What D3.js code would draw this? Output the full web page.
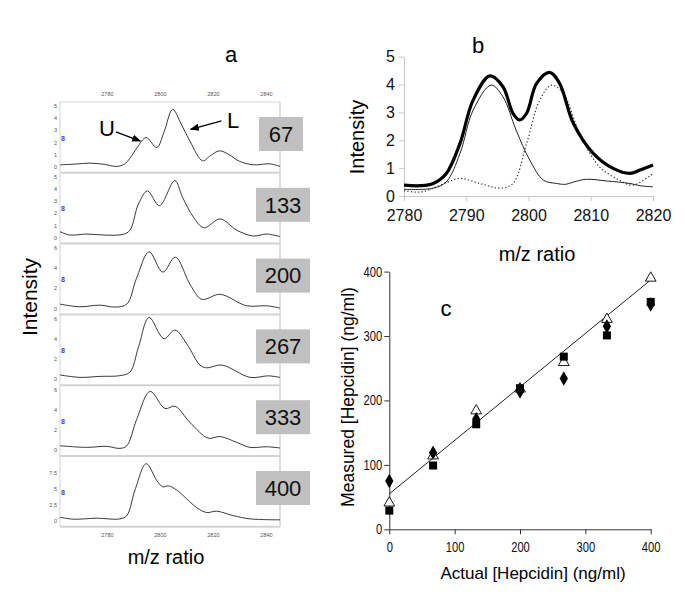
<html>
  <head>
    <script src="https://d3js.org/d3.v7.min.js"></script>
    <style>
      body { margin: 0; background: #fff; }
      text { font-family: "Liberation Sans", Arial, sans-serif; }
    </style>
  </head>
  <body>
    <svg id="fig" width="685" height="616"></svg>
    <script>
      // ---- panel a: spectra at each spiked concentration ----
      let concLabels = ["67", "133", "200", "267", "333", "400"];
      let spec67 = [[2762.3,0.16],[2768,0.22],[2773.6,0.3],[2779,0.2],[2783.7,0.03],[2786.5,0.2],[2788.7,0.7],[2791.5,1.6],[2794.8,2.38],[2798.8,1.57],[2801.5,2.8],[2804.8,4.68],[2808,3.5],[2811.4,2.05],[2816.1,0.49],[2819,0.9],[2822.4,1.3],[2826,1.0],[2830,0.45],[2835.2,0.16],[2841.5,0.24],[2845.3,0.03]];
      let spec133 = [[2762.3,0.48],[2766.1,0.21],[2772.4,0.29],[2779.9,0.2],[2786.2,0.27],[2788.7,0.6],[2791.9,2.74],[2795.3,3.8],[2799.8,2.6],[2805.6,4.65],[2808.5,3.3],[2812.6,1.68],[2816.6,0.8],[2822.7,1.52],[2829,0.6],[2835.2,0.13],[2840.3,0.29],[2845.3,0.08]];
      let spec200 = [[2762.3,0.42],[2769.8,0.16],[2777.4,0.32],[2783.1,0.13],[2787.5,0.42],[2791.2,3.0],[2795.9,5.58],[2801.1,3.58],[2805.8,5.06],[2811.4,2.35],[2815.8,0.9],[2822.7,1.39],[2832.7,0.26],[2840.3,0.26],[2845.3,0.03]];
      let spec267 = [[2762.3,0.42],[2769.8,0.18],[2777.4,0.28],[2784.9,0.35],[2788.7,0.7],[2791.9,3.16],[2795.9,6.1],[2801.5,4.0],[2805.7,4.85],[2810.1,3.5],[2815.1,1.4],[2817.6,1.12],[2823.3,1.4],[2834,0.18],[2840.9,0.33],[2845.3,0.18]];
      let spec333 = [[2762.3,0.42],[2772.4,0.26],[2779.9,0.36],[2784.9,0.16],[2787.5,0.42],[2791.2,3.0],[2796.3,5.78],[2801.9,4.1],[2805.7,4.32],[2811.4,2.7],[2818.2,1.17],[2822.7,1.33],[2829,0.75],[2834,0.26],[2840.3,0.32],[2845.3,0.2]];
      let spec400 = [[2762.3,0.55],[2767.3,0.25],[2776.1,0.4],[2784.9,0.3],[2787.5,0.8],[2790.6,4.78],[2794.8,8.86],[2798.8,6.27],[2801.1,5.27],[2803.2,5.42],[2806.3,4.78],[2813.9,2.04],[2817.6,1.29],[2821.4,1.49],[2827.7,0.8],[2834,0.3],[2845.3,0.15]];
      let spectra = [spec67, spec133, spec200, spec267, spec333, spec400];
      let yTops = [5.2, 5.2, 6.3, 6.3, 6.3, 9.9];
      let yTicksA = [[0,1,2,3,4,5],[0,1,2,3,4,5],[0,2,4,6],[0,2,4,6],[0,2,4,6],[0,2.5,5,7.5]];
      let mzTicksA = [2780, 2800, 2820, 2840];

      // ---- panel b: deconvolution of the two peaks ----
      let sumLine = [[2780,0.39],[2782.6,0.37],[2784.7,0.45],[2786.8,0.81],[2789,1.89],[2791.1,3.44],[2793.8,4.31],[2795.9,3.92],[2797.5,2.97],[2798.6,2.73],[2799.7,2.97],[2801.3,4.04],[2803.4,4.44],[2805,4.04],[2807.2,2.61],[2810.4,1.53],[2813.6,0.99],[2816.3,0.81],[2817.9,0.93],[2820,1.11]];
      let uLine = [[2780,0.24],[2784.7,0.28],[2786.8,0.51],[2789,1.53],[2791.1,3.08],[2794,3.98],[2795.9,3.56],[2798,2.37],[2800.2,1.29],[2802.4,0.57],[2804.5,0.45],[2806,0.42],[2807.2,0.5],[2809.3,0.6],[2812.5,0.54],[2816.3,0.45],[2817.9,0.37],[2820,0.33]];
      let lLine = [[2780,0.19],[2782.6,0.14],[2784.7,0.28],[2786.8,0.48],[2789,0.63],[2792.2,0.45],[2795.4,0.28],[2797.5,0.45],[2799.7,1.89],[2801.8,3.44],[2803.7,3.98],[2805.6,3.68],[2808.2,2.25],[2811.4,1.05],[2814.6,0.57],[2816.8,0.39],[2820,0.81]];

      // ---- panel c: measured vs actual ----
      let actual = [0, 67, 133, 200, 267, 333, 400];
      let diamonds = [75, 119, 171, 214, 234, 315, 349];
      let squares = [29, 99, 163, 219, 268, 301, 353];
      let triangles = [41, 114, 184, 218, 259, 326, 390];
      let fitIntercept = 55, fitSlope = 0.83;

      let svg = d3.select("svg#fig");
      svg.append("rect").attr("width", 685).attr("height", 616).attr("fill", "#fff");

      // ================= panel a =================
      let xA = d3.scaleLinear().domain([2762.3, 2845.3]).range([60, 280]);
      let aTop = 102, aH = 70.8;
      let gA = svg.append("g");

      // frame + separators
      gA.append("line").attr("x1", 60).attr("x2", 60).attr("y1", aTop).attr("y2", aTop + 6 * aH)
        .attr("stroke", "#d4d4d4").attr("stroke-width", 1);
      gA.append("line").attr("x1", 280).attr("x2", 280).attr("y1", aTop).attr("y2", aTop + 6 * aH)
        .attr("stroke", "#d4d4d4").attr("stroke-width", 1.5);
      for (let i = 0; i <= 6; i++) {
        gA.append("line").attr("x1", 60).attr("x2", 280)
          .attr("y1", aTop + i * aH).attr("y2", aTop + i * aH)
          .attr("stroke", "#d4d4d4").attr("stroke-width", i == 0 ? 1 : 2);
      }

      spectra.forEach((spec, i) => {
        let top = aTop + i * aH;
        let y = d3.scaleLinear().domain([0, yTops[i]]).range([top + aH - 6, top + 1]);
        let line = d3.line().x(d => xA(d[0])).y(d => y(d[1])).curve(d3.curveCatmullRom.alpha(0.5));
        gA.append("path").datum(spec).attr("d", line)
          .attr("fill", "none").attr("stroke", "#222").attr("stroke-width", 0.9);

        let ax = d3.axisLeft(y).tickValues(yTicksA[i]).tickSize(0).tickPadding(3).tickFormat(d3.format("~g"));
        let g = gA.append("g").attr("transform", "translate(60,0)").call(ax);
        g.select(".domain").remove();
        g.selectAll("text").attr("font-size", 5.5).attr("fill", "#555")
          .attr("font-family", "Liberation Sans, Arial, sans-serif");

        // tiny blue marker
        gA.append("text").attr("x", 63).attr("y", y(yTops[i] * 0.45))
          .attr("text-anchor", "middle").attr("dy", "0.35em")
          .attr("font-size", 7).attr("font-weight", "bold").attr("fill", "#3344cc").text("8");

        // concentration box
        let w = concLabels[i].length == 2 ? 44 : 54;
        let cx = i == 0 ? 281 : 283;
        gA.append("rect").attr("x", cx - w / 2).attr("y", top + 15).attr("width", w).attr("height", 34)
          .attr("fill", "#c0c0c0");
        gA.append("text").attr("x", cx).attr("y", top + 32).attr("dy", "0.35em")
          .attr("text-anchor", "middle").attr("font-size", 22).attr("fill", "#111").text(concLabels[i]);
      });

      let topAx = gA.append("g").attr("transform", "translate(0," + (aTop - 6) + ")")
        .call(d3.axisTop(xA).tickValues(mzTicksA).tickSize(0).tickPadding(0).tickFormat(d3.format("d")));
      topAx.select(".domain").remove();
      topAx.selectAll("text").attr("font-size", 5.5).attr("fill", "#555");
      let botAx = gA.append("g").attr("transform", "translate(0," + (aTop + 6 * aH + 5) + ")")
        .call(d3.axisBottom(xA).tickValues(mzTicksA).tickSize(0).tickPadding(1).tickFormat(d3.format("d")));
      botAx.select(".domain").remove();
      botAx.selectAll("text").attr("font-size", 5.5).attr("fill", "#555");

      // U / L annotation on top spectrum
      let y1 = d3.scaleLinear().domain([0, yTops[0]]).range([aTop + aH - 6, aTop + 1]);
      svg.append("defs").append("marker").attr("id", "arr").attr("viewBox", "0 0 10 10")
        .attr("refX", 9).attr("refY", 5).attr("markerWidth", 7).attr("markerHeight", 7)
        .attr("orient", "auto").append("path").attr("d", "M0,1L10,5L0,9Z").attr("fill", "#000");
      gA.append("text").attr("x", xA(2780)).attr("y", y1(3.1)).attr("dy", "0.35em")
        .attr("text-anchor", "middle").attr("font-size", 22).text("U");
      gA.append("line").attr("x1", xA(2783.4)).attr("y1", y1(2.85)).attr("x2", xA(2792.6)).attr("y2", y1(2.1))
        .attr("stroke", "#000").attr("stroke-width", 1.3).attr("marker-end", "url(#arr)");
      gA.append("text").attr("x", xA(2827.6)).attr("y", y1(3.75)).attr("dy", "0.35em")
        .attr("text-anchor", "middle").attr("font-size", 22).text("L");
      gA.append("line").attr("x1", xA(2823.2)).attr("y1", y1(3.75)).attr("x2", xA(2811.6)).attr("y2", y1(3.05))
        .attr("stroke", "#000").attr("stroke-width", 1.3).attr("marker-end", "url(#arr)");

      svg.append("text").attr("x", 231).attr("y", 62).attr("text-anchor", "middle").attr("font-size", 22).text("a");
      svg.append("text").attr("transform", "translate(37,297) rotate(-90)").attr("text-anchor", "middle")
        .attr("font-size", 21).text("Intensity");
      svg.append("text").attr("x", 166).attr("y", 564).attr("text-anchor", "middle").attr("font-size", 20).text("m/z ratio");

      // ================= panel b =================
      let xB = d3.scaleLinear().domain([2780, 2820]).range([404, 653]);
      let yB = d3.scaleLinear().domain([0, 5]).range([196, 56.7]);
      let gB = svg.append("g");
      let xAxB = gB.append("g").attr("transform", "translate(0,196)")
        .call(d3.axisBottom(xB).ticks(5).tickSize(5).tickSizeOuter(0).tickPadding(9).tickFormat(d3.format("d")));
      let yAxB = gB.append("g").attr("transform", "translate(404,0)")
        .call(d3.axisLeft(yB).ticks(5).tickSize(5).tickSizeOuter(0).tickPadding(4));
      [xAxB, yAxB].forEach(g => {
        g.selectAll("path, line").attr("stroke", "#c8c8c8");
        g.selectAll("text").attr("font-size", 16).attr("fill", "#111")
          .attr("font-family", "Liberation Sans, Arial, sans-serif");
      });
      let lineB = d3.line().x(d => xB(d[0])).y(d => yB(d[1])).curve(d3.curveCatmullRom.alpha(0.5));
      gB.append("path").datum(lLine).attr("d", lineB).attr("fill", "none")
        .attr("stroke", "#333").attr("stroke-width", 1.2).attr("stroke-dasharray", "1.3,2.2");
      gB.append("path").datum(uLine).attr("d", lineB).attr("fill", "none")
        .attr("stroke", "#222").attr("stroke-width", 1);
      gB.append("path").datum(sumLine).attr("d", lineB).attr("fill", "none")
        .attr("stroke", "#000").attr("stroke-width", 3.2);
      svg.append("text").attr("x", 478).attr("y", 53).attr("text-anchor", "middle").attr("font-size", 22).text("b");
      svg.append("text").attr("transform", "translate(364,137) rotate(-90)").attr("text-anchor", "middle")
        .attr("font-size", 20).text("Intensity");
      svg.append("text").attr("x", 537).attr("y", 261).attr("text-anchor", "middle").attr("font-size", 20).text("m/z ratio");

      // ================= panel c =================
      let xC = d3.scaleLinear().domain([0, 400]).range([389.3, 650.7]);
      let yC = d3.scaleLinear().domain([0, 400]).range([529.3, 271.6]);
      let gC = svg.append("g");
      let xAxC = gC.append("g").attr("transform", "translate(0,529.3)")
        .call(d3.axisBottom(xC).tickValues([0, 100, 200, 300, 400]).tickSize(5).tickSizeOuter(0).tickPadding(8));
      let yAxC = gC.append("g").attr("transform", "translate(389.3,0)")
        .call(d3.axisLeft(yC).tickValues([0, 100, 200, 300, 400]).tickSize(5).tickSizeOuter(0).tickPadding(4));
      [xAxC, yAxC].forEach(g => {
        g.selectAll("path, line").attr("stroke", "#333");
        // condensed look of the original tick labels
        g.selectAll("text").attr("font-size", 14).attr("fill", "#111")
          .attr("font-family", "Liberation Sans, Arial, sans-serif")
          .attr("transform", "scale(0.8,1)");
      });

      gC.append("line").attr("x1", xC(0)).attr("y1", yC(fitIntercept))
        .attr("x2", xC(400)).attr("y2", yC(fitIntercept + fitSlope * 400))
        .attr("stroke", "#222").attr("stroke-width", 1);

      let sqSym = d3.symbol().type(d3.symbolSquare).size(64);
      let diSym = d3.symbol().type(d3.symbolDiamond).size(60);
      let trSym = d3.symbol().type(d3.symbolTriangle).size(50);

      gC.selectAll("path.tri").data(triangles).join("path").attr("class", "tri")
        .attr("transform", (d, i) => "translate(" + xC(actual[i]) + "," + yC(d) + ")")
        .attr("d", trSym).attr("fill", "#fff").attr("stroke", "#000").attr("stroke-width", 0.9);
      gC.selectAll("path.sq").data(squares).join("path").attr("class", "sq")
        .attr("transform", (d, i) => "translate(" + xC(actual[i]) + "," + yC(d) + ")")
        .attr("d", sqSym).attr("fill", "#000");
      gC.selectAll("path.di").data(diamonds).join("path").attr("class", "di")
        .attr("transform", (d, i) => "translate(" + xC(actual[i]) + "," + yC(d) + ")")
        .attr("d", diSym).attr("fill", "#000");

      svg.append("text").attr("x", 446).attr("y", 316).attr("text-anchor", "middle").attr("font-size", 22).text("c");
      svg.append("text").attr("transform", "translate(354,397) rotate(-90)").attr("text-anchor", "middle")
        .attr("font-size", 17.5).text("Measured [Hepcidin] (ng/ml)");
      svg.append("text").attr("x", 533).attr("y", 579).attr("text-anchor", "middle").attr("font-size", 17)
        .text("Actual [Hepcidin] (ng/ml)");
    </script>
  </body>
</html>
